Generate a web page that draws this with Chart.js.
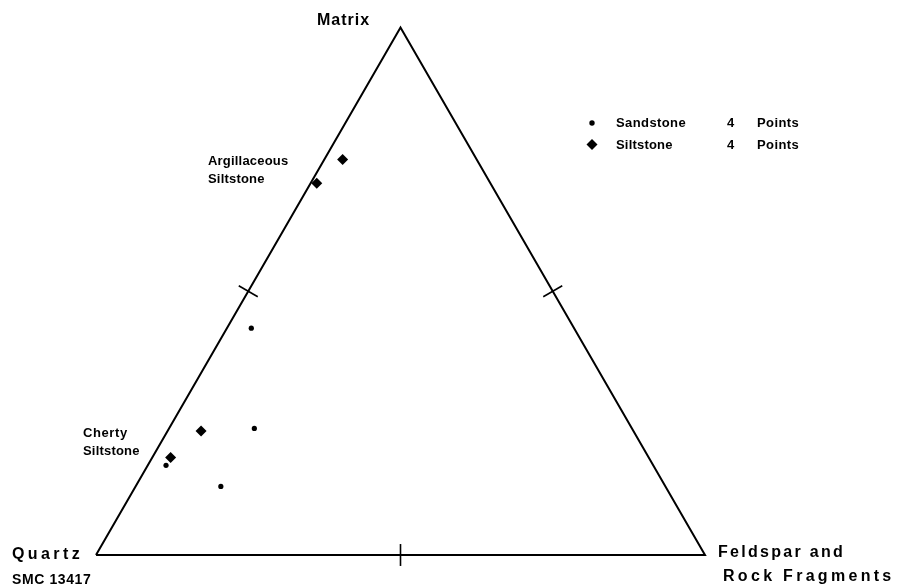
<!DOCTYPE html>
<html>
<head>
<style>
  body { margin: 0; background: #ffffff; }
</style>
<script src="https://cdn.jsdelivr.net/npm/chart.js@4.4.0/dist/chart.umd.min.js"></script>
<script type="text/javascript">

    // composition of each sample, percent: Matrix / Feldspar+RF / Quartz
    var sandMatrix   = [43, 24, 13, 17];
    var sandFeldspar = [4, 14, 14, 3];
    var sandQuartz   = [53, 62, 73, 80];

    var siltMatrix   = [75, 70.5, 23.5, 18.5];
    var siltFeldspar = [3, 1, 5.5, 3];
    var siltQuartz   = [22, 28.5, 71, 78.5];

    // tick marks sit at this percentage along each side
    var sideTicks = [50];

    var H = Math.sqrt(3) / 2;

    // ternary -> cartesian, Quartz at (0,0), Feldspar at (1,0), Matrix on top
    function toXY(m, f, q) {
        var s = m + f + q;
        return { x: (f + m / 2) / s, y: (m / s) * H };
    }

    function toPoints(ms, fs, qs) {
        var out = [];
        for (let i = 0; i < ms.length; i++) out.push(toXY(ms[i], fs[i], qs[i]));
        return out;
    }

    var vQ = toXY(0, 0, 100), vF = toXY(0, 100, 0), vM = toXY(100, 0, 0);
    var sides = [[vQ, vM], [vM, vF], [vQ, vF]];

    function tickSets() {
        var sets = [];
        var half = 0.018;
        sides.forEach(function (sd) {
            var a = sd[0], b = sd[1];
            var dx = b.x - a.x, dy = b.y - a.y;
            var len = Math.sqrt(dx * dx + dy * dy);
            var nx = -dy / len, ny = dx / len;
            sideTicks.forEach(function (p) {
                var t = p / 100;
                var cx = a.x + dx * t, cy = a.y + dy * t;
                sets.push([{ x: cx - nx * half, y: cy - ny * half },
                           { x: cx + nx * half, y: cy + ny * half }]);
            });
        });
        return sets;
    }

    function drawText(ctx, txt, x, y, font, spacing) {
        ctx.font = font;
        ctx.letterSpacing = spacing + 'px';
        ctx.fillText(txt, x, y);
    }

    var labelsPlugin = {
        id: 'labels',
        afterDraw: function (chart) {
            var ctx = chart.ctx;
            ctx.save();
            ctx.fillStyle = '#000';
            ctx.textAlign = 'left';
            ctx.textBaseline = 'alphabetic';

            var big = 'bold 16px "Liberation Sans"';
            var small = 'bold 13px "Liberation Sans"';

            drawText(ctx, 'Matrix', 317, 25, big, 1);
            drawText(ctx, 'Quartz', 12, 559, big, 3.4);
            drawText(ctx, 'SMC 13417', 12, 584, 'bold 14px "Liberation Sans"', 0.6);
            drawText(ctx, 'Feldspar and', 718, 557, big, 2.3);
            drawText(ctx, 'Rock Fragments', 723, 581, big, 3.3);

            drawText(ctx, 'Argillaceous', 208, 165, small, 0.2);
            drawText(ctx, 'Siltstone', 208, 183, small, 0.2);
            drawText(ctx, 'Cherty', 83, 437, small, 0.6);
            drawText(ctx, 'Siltstone', 83, 455, small, 0.2);

            // legend
            ctx.beginPath();
            ctx.arc(592, 123, 2.7, 0, Math.PI * 2);
            ctx.fill();
            ctx.beginPath();
            ctx.moveTo(592, 139); ctx.lineTo(597.5, 144.5);
            ctx.lineTo(592, 150); ctx.lineTo(586.5, 144.5);
            ctx.closePath();
            ctx.fill();

            drawText(ctx, 'Sandstone', 616, 127, small, 0.4);
            drawText(ctx, String(sandMatrix.length), 727, 127, small, 0);
            drawText(ctx, 'Points', 757, 127, small, 0.4);
            drawText(ctx, 'Siltstone', 616, 149, small, 0.2);
            drawText(ctx, String(siltMatrix.length), 727, 149, small, 0);
            drawText(ctx, 'Points', 757, 149, small, 0.4);

            ctx.restore();
        }
    };

    function drawChart() {
        var datasets = [];

        datasets.push({
            data: [vQ, vM, vF, vQ],
            showLine: true,
            borderColor: '#000',
            borderWidth: 2,
            pointRadius: 0,
            fill: false
        });

        tickSets().forEach(function (seg) {
            datasets.push({
                data: seg,
                showLine: true,
                borderColor: '#000',
                borderWidth: 1.6,
                pointRadius: 0
            });
        });

        datasets.push({
            label: 'Sandstone',
            data: toPoints(sandMatrix, sandFeldspar, sandQuartz),
            pointStyle: 'circle',
            pointRadius: 2.6,
            backgroundColor: '#000',
            borderColor: '#000',
            borderWidth: 0
        });

        datasets.push({
            label: 'Siltstone',
            data: toPoints(siltMatrix, siltFeldspar, siltQuartz),
            pointStyle: 'rectRot',
            pointRadius: 5.5,
            backgroundColor: '#000',
            borderColor: '#000',
            borderWidth: 0
        });

        const config = {
            type: 'scatter',
            data: { datasets: datasets },
            options: {
                responsive: false,
                animation: false,
                devicePixelRatio: 1,
                layout: { padding: 0, autoPadding: false },
                plugins: {
                    legend: { display: false },
                    tooltip: { enabled: false },
                    title: { display: false }
                },
                scales: {
                    x: { display: false, min: -96 / 609, max: 803 / 609 },
                    y: { display: false, min: -32 / 609, max: 555 / 609 }
                }
            },
            plugins: [labelsPlugin]
        };

        new Chart(document.getElementById('ternary'), config);
    }
</script>
</head>
<body onload="drawChart()">
    <canvas id="ternary" width="899" height="587"></canvas>
</body>
</html>
